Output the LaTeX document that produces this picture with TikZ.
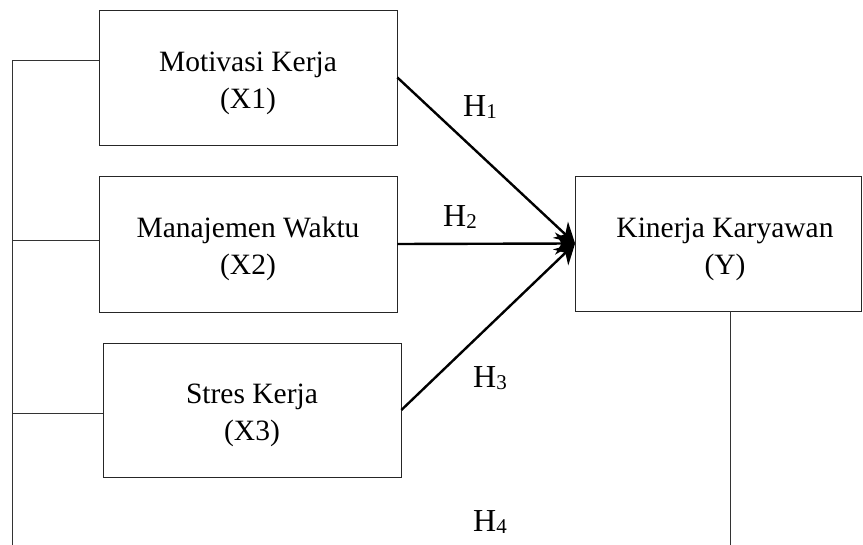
\documentclass[tikz,border=0pt]{standalone}
\usepackage{fontspec}
\setmainfont{Liberation Serif}
\usetikzlibrary{arrows.meta}
\newcommand{\hsub}[1]{H\raisebox{-2pt}{\fontsize{21}{21}\selectfont #1}}
\newcommand{\twoline}[2]{\raisebox{-5pt}[\height][\depth]{\begin{tabular}{@{}c@{}}#1\\#2\end{tabular}}}
\begin{document}
\begin{tikzpicture}[x=1pt,y=-1pt,
  varbox/.style={draw=black!85,line width=0.8pt,minimum width=298pt,minimum height=135pt,
    inner sep=0pt,font=\fontsize{29.5}{37}\selectfont},
  conn/.style={draw=black!80,line width=0.8pt},
  hyparrow/.style={draw=black,line width=2.4pt,-{Stealth[length=20pt,width=22pt]}},
  hlab/.style={anchor=base west,inner sep=0pt,font=\fontsize{32}{32}\selectfont}]
\useasboundingbox (0,0) rectangle (863,545);
\node[varbox] (b1) at (248,77.5) {\twoline{Motivasi Kerja}{(X1)}};
\node[varbox,minimum height=136pt] (b2) at (248,244) {\twoline{Manajemen Waktu}{(X2)}};
\node[varbox,minimum height=134pt] (b3) at (252,410) {\twoline{Stres Kerja}{(X3)}};
\node[varbox,minimum width=286pt] (bY) at (718.5,243.5) {\hspace*{13pt}\twoline{Kinerja Karyawan}{(Y)}};
% left bracket
\coordinate (lb) at (12,545);
\coordinate (c1) at ([yshift=17.5pt]b1.west);
\coordinate (c2) at ([yshift=4pt]b2.west);
\coordinate (c3) at ([yshift=-3pt]b3.west);
\draw[conn] (lb) |- (c1);
\draw[conn] (c2) -- (c2 -| lb);
\draw[conn] (c3) -- (c3 -| lb);
% right drop
\coordinate (rb) at (730,545);
\draw[conn] (bY.south -| rb) -- (rb);
% hypothesis paths
\draw[hyparrow] (b1.east) -- (bY.west);
\draw[hyparrow] (b2.east) -- (bY.west);
\draw[hyparrow] (b3.east) -- (bY.west);
% labels
\node[hlab] (h1) at (463,117) {\hsub{1}};
\node[hlab] (h2) at (443,227) {\hsub{2}};
\node[hlab] (h3) at (473,388) {\hsub{3}};
\node[hlab] (h4) at (473,531) {\hsub{4}};
\end{tikzpicture}
\end{document}
